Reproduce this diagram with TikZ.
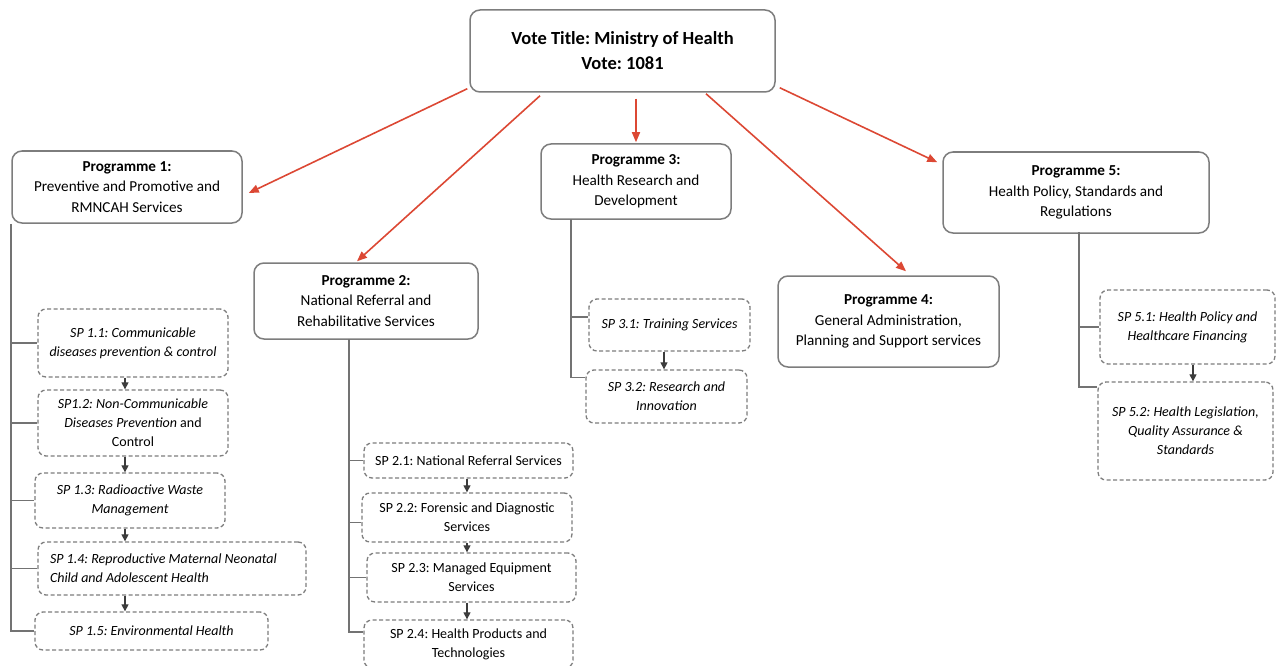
\documentclass[tikz,border=0pt]{standalone}
\usepackage{fontspec}
\setmainfont{Carlito}
\frenchspacing
\usetikzlibrary{arrows.meta}
\definecolor{boxgray}{RGB}{125,125,125}
\definecolor{linegray}{RGB}{115,115,115}
\definecolor{arrred}{RGB}{220,72,52}
\definecolor{tipgray}{RGB}{60,60,60}
\begin{document}
\begin{tikzpicture}[x=1pt, y=-1pt,
  vote node/.style={draw=boxgray, line width=1.5pt, rounded corners=10pt, align=center, inner sep=0pt, font=\fontsize{18.5}{25}\selectfont\bfseries},
  prog node/.style={draw=boxgray, line width=1.5pt, rounded corners=10pt, align=center, inner sep=0pt, font=\fontsize{15.2}{20.5}\selectfont},
  sub node/.style={draw=boxgray, line width=1.3pt, dash pattern=on 4pt off 2.5pt, rounded corners=8pt, align=center, inner sep=0pt, font=\fontsize{14}{19}\selectfont},
  subit node/.style={sub node, font=\fontsize{14}{19}\selectfont\itshape},
  trunk/.style={draw=linegray, line width=1.8pt},
  red arrow/.style={draw=arrred, line width=1.6pt, -{Triangle[width=8pt,length=10pt]}},
  small arrow/.style={draw=tipgray, line width=1.2pt, -{Triangle[width=7pt,length=7pt]}}]%
  \useasboundingbox (0,0) rectangle (1282,666);

  \node[vote node, minimum width=305pt, minimum height=82pt] (vote) at (622.5,51) {Vote Title: Ministry of Health\\Vote: 1081};

  \node[prog node, minimum width=230pt, minimum height=72pt] (p1) at (127,187) {\textbf{Programme 1:}\\Preventive and Promotive and\\RMNCAH Services};
  \node[prog node, minimum width=224pt, minimum height=76pt] (p2) at (366,301) {\textbf{Programme 2:}\\National Referral and\\Rehabilitative Services};
  \node[prog node, minimum width=190pt, minimum height=75pt] (p3) at (636,181.5) {\textbf{Programme 3:}\\Health Research and\\Development};
  \node[prog node, minimum width=221pt, minimum height=91pt] (p4) at (888.5,321.5) {\textbf{Programme 4:}\\General Administration,\\Planning and Support services};
  \node[prog node, minimum width=266pt, minimum height=81pt] (p5) at (1076,192.5) {\textbf{Programme 5:}\\Health Policy, Standards and\\Regulations};

  \draw[red arrow] ([xshift=-2pt,yshift=4pt]vote.south west) -- ([xshift=6pt,yshift=-6pt]p1.east);
  \draw[red arrow] ([xshift=-82.5pt,yshift=-3pt]vote.south) -- ([xshift=-9pt,yshift=1pt]p2.north);
  \draw[red arrow] ([xshift=13.5pt,yshift=-6pt]vote.south) -- ([yshift=1pt]p3.north);
  \draw[red arrow] ([xshift=83.5pt,yshift=-1pt]vote.south) -- ([xshift=17.5pt,yshift=4pt]p4.north);
  \draw[red arrow] ([xshift=4pt,yshift=5pt]vote.south east) -- ([xshift=-5pt,yshift=-11pt]p5.north west);

  \node[subit node, minimum width=190pt, minimum height=68pt] (sp11) at (133,343) {SP 1.1: Communicable\\diseases prevention \& control};
  \node[sub node, minimum width=190pt, minimum height=66pt] (sp12) at (133,423) {\textit{SP1.2: Non-Communicable}\\\textit{Diseases Prevention} and\\Control};
  \node[subit node, minimum width=190pt, minimum height=55pt] (sp13) at (130,500.5) {SP 1.3: Radioactive Waste\\Management};
  \node[subit node, minimum width=268pt, minimum height=53pt, text width=244pt, align=flush left] (sp14) at (172,568.5) {SP 1.4: Reproductive Maternal Neonatal\\Child and Adolescent Health};
  \node[subit node, minimum width=233pt, minimum height=38pt] (sp15) at (151.5,631) {SP 1.5: Environmental Health};
  \draw[trunk] (p1.south west) |- (sp15.west);
  \draw[trunk] (sp11.west -| p1.south west) -- (sp11.west);
  \draw[trunk] (sp12.west -| p1.south west) -- (sp12.west);
  \draw[trunk] (sp13.west -| p1.south west) -- (sp13.west);
  \draw[trunk] (sp14.west -| p1.south west) -- (sp14.west);
  \coordinate (a1) at (125,0);
  \draw[small arrow] (sp11.south -| a1) -- (sp12.north -| a1);
  \draw[small arrow] (sp12.south -| a1) -- (sp13.north -| a1);
  \draw[small arrow] (sp13.south -| a1) -- (sp14.north -| a1);
  \draw[small arrow] (sp14.south -| a1) -- (sp15.north -| a1);

  \node[sub node, minimum width=209pt, minimum height=35pt] (sp21) at (468.5,460.5) {SP 2.1: National Referral Services};
  \node[sub node, minimum width=210pt, minimum height=49pt] (sp22) at (467,517.5) {SP 2.2: Forensic and Diagnostic\\Services};
  \node[sub node, minimum width=209pt, minimum height=49pt] (sp23) at (471.5,577.5) {SP 2.3: Managed Equipment\\Services};
  \node[sub node, minimum width=209pt, minimum height=48pt] (sp24) at (468.5,644) {SP 2.4: Health Products and\\Technologies};
  \coordinate (t2) at (349,339);
  \draw[trunk] (t2) |- ([yshift=12pt]sp24.west);
  \draw[trunk] (sp21.west -| t2) -- (sp21.west);
  \draw[trunk] ([yshift=-5pt]sp22.west -| t2) -- ([yshift=-5pt]sp22.west);
  \draw[trunk] (sp23.west -| t2) -- (sp23.west);
  \coordinate (a2) at (467,0);
  \draw[small arrow] (sp21.south -| a2) -- (sp22.north -| a2);
  \draw[small arrow] (sp22.south -| a2) -- (sp23.north -| a2);
  \draw[small arrow] (sp23.south -| a2) -- (sp24.north -| a2);

  \node[subit node, minimum width=161pt, minimum height=52pt] (sp31) at (669.5,325) {SP 3.1: Training Services};
  \node[subit node, minimum width=161pt, minimum height=53pt] (sp32) at (666.5,396.5) {SP 3.2: Research and\\Innovation};
  \coordinate (t3) at (571,219);
  \draw[trunk] (t3) |- ([yshift=19pt]sp32.west);
  \draw[trunk] ([yshift=8pt]sp31.west -| t3) -- ([yshift=8pt]sp31.west);
  \coordinate (a3) at (664,0);
  \draw[small arrow] (sp31.south -| a3) -- (sp32.north -| a3);

  \node[subit node, minimum width=175pt, minimum height=74pt] (sp51) at (1187.5,327) {SP 5.1: Health Policy and\\Healthcare Financing};
  \node[subit node, minimum width=175pt, minimum height=98pt] (sp52) at (1185.5,431) {SP 5.2: Health Legislation,\\Quality Assurance \&\\Standards};
  \coordinate (t5) at (1079,232);
  \draw[trunk] (t5) |- ([yshift=44pt]sp52.west);
  \draw[trunk] (sp51.west -| t5) -- (sp51.west);
  \coordinate (a5) at (1193,0);
  \draw[small arrow] (sp51.south -| a5) -- (sp52.north -| a5);
\end{tikzpicture}
\end{document}
